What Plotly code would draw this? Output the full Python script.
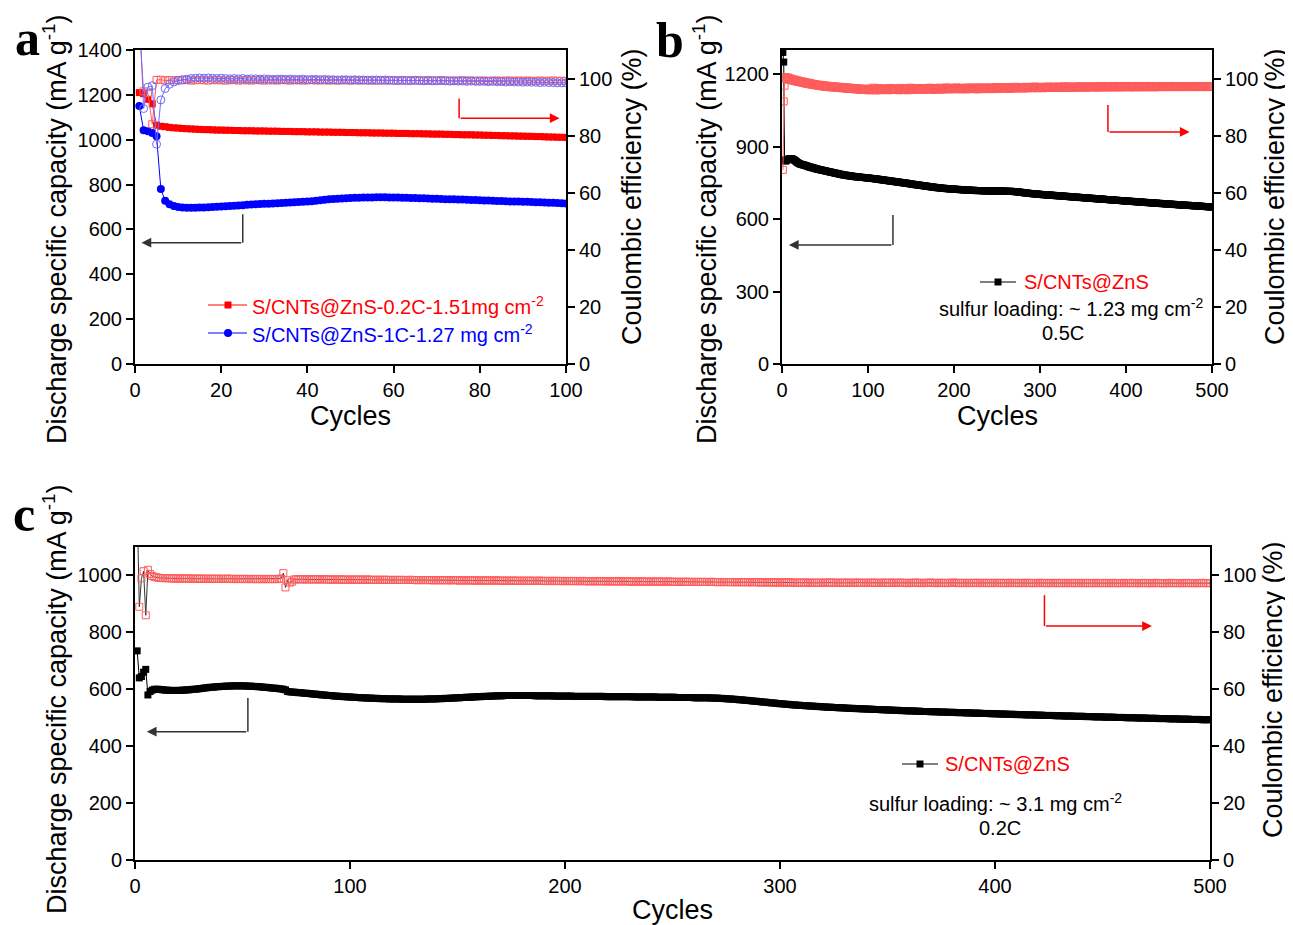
import plotly.graph_objects as go

# ---------------- Panel a (100 cycles) ----------------
cap_a_red = [1210, 1205, 1180, 1160, 1065, 1060, 1058, 1055, 1053, 1052,
             1050, 1049, 1048, 1047, 1046, 1045, 1045, 1044, 1043, 1043,
             1042, 1042, 1041, 1041, 1040, 1040, 1040, 1039, 1039, 1039,
             1038, 1038, 1038, 1037, 1037, 1037, 1036, 1036, 1036, 1035,
             1035, 1035, 1034, 1034, 1034, 1033, 1033, 1033, 1032, 1032,
             1032, 1031, 1031, 1031, 1030, 1030, 1030, 1029, 1029, 1029,
             1028, 1028, 1028, 1027, 1027, 1027, 1026, 1026, 1025, 1025,
             1025, 1024, 1024, 1023, 1023, 1022, 1022, 1022, 1021, 1021,
             1020, 1020, 1019, 1019, 1018, 1018, 1017, 1017, 1016, 1016,
             1015, 1015, 1014, 1014, 1013, 1012, 1012, 1011, 1011, 1010]
cap_a_blue = [1150, 1042, 1038, 1030, 1015, 780, 728, 712, 705, 700,
              698, 697, 697, 697, 698, 698, 699, 700, 701, 702,
              703, 705, 706, 707, 708, 710, 711, 712, 713, 714,
              715, 716, 717, 718, 719, 720, 721, 722, 723, 724,
              726, 728, 730, 732, 734, 736, 737, 738, 739, 740,
              741, 741, 742, 742, 742, 743, 743, 743, 742, 742,
              742, 741, 741, 740, 740, 739, 739, 738, 737, 737,
              736, 735, 735, 734, 733, 733, 732, 731, 731, 730,
              729, 729, 728, 727, 727, 726, 725, 725, 724, 723,
              723, 722, 721, 721, 720, 719, 719, 718, 717, 716]
ce_a_red = [118, 95.5, 95.0, 84.0, 99.5, 99.6, 99.3, 99.5, 99.4, 99.5,
            99.4, 99.5, 99.3, 99.4, 99.5, 99.4, 99.3, 99.5, 99.4, 99.4,
            99.3, 99.4, 99.5, 99.3, 99.4, 99.4, 99.3, 99.5, 99.4, 99.3,
            99.4, 99.4, 99.3, 99.5, 99.4, 99.3, 99.4, 99.4, 99.3, 99.4,
            99.5, 99.3, 99.4, 99.4, 99.3, 99.4, 99.3, 99.4, 99.4, 99.3,
            99.4, 99.3, 99.4, 99.4, 99.3, 99.3, 99.4, 99.3, 99.4, 99.3,
            99.3, 99.4, 99.3, 99.3, 99.4, 99.3, 99.3, 99.4, 99.3, 99.3,
            99.4, 99.3, 99.3, 99.2, 99.3, 99.4, 99.3, 99.3, 99.2, 99.3,
            99.3, 99.2, 99.3, 99.3, 99.2, 99.3, 99.3, 99.2, 99.3, 99.2,
            99.3, 99.2, 99.2, 99.3, 99.2, 99.2, 99.3, 99.2, 99.2, 99.2]
ce_a_blue = [125, 89.5, 97.0, 97.5, 77.0, 92.5, 96.5, 98.0, 98.8, 99.3,
             99.6, 99.8, 100.0, 100.1, 100.2, 100.1, 100.2, 100.1, 100.0, 100.1,
             100.0, 99.9, 100.0, 99.9, 100.0, 99.8, 99.9, 99.9, 99.8, 99.9,
             99.8, 99.7, 99.8, 99.8, 99.7, 99.8, 99.7, 99.7, 99.8, 99.6,
             99.7, 99.7, 99.6, 99.7, 99.6, 99.6, 99.5, 99.6, 99.6, 99.5,
             99.6, 99.5, 99.5, 99.4, 99.5, 99.5, 99.4, 99.5, 99.4, 99.4,
             99.3, 99.4, 99.3, 99.3, 99.4, 99.3, 99.2, 99.3, 99.2, 99.2,
             99.3, 99.2, 99.1, 99.2, 99.1, 99.1, 99.0, 99.1, 99.0, 99.0,
             99.0, 98.9, 99.0, 98.9, 98.9, 98.8, 98.9, 98.8, 98.8, 98.7,
             98.8, 98.7, 98.7, 98.6, 98.7, 98.6, 98.6, 98.5, 98.5, 98.5]

# ---------------- Panel b (500 cycles, 0.5C) ----------------
cap_b = [1290, 1250, 845, 840, 842, 845, 847, 849, 850, 850,
         850, 849, 847, 845, 843, 840, 837, 834, 832, 830,
         828, 827, 826, 825, 824, 823, 822, 821, 820, 818,
         817, 816, 815, 814, 813, 812, 811, 810, 809, 808,
         807, 806, 805, 805, 804, 803, 802, 801, 801, 800,
         799, 798, 797, 797, 796, 795, 794, 793, 793, 792,
         791, 790, 789, 789, 788, 787, 786, 785, 785, 784,
         783, 783, 782, 782, 781, 780, 780, 779, 779, 778,
         778, 777, 777, 776, 776, 775, 775, 775, 774, 774,
         773, 773, 773, 772, 772, 772, 771, 771, 770, 770,
         770, 769, 769, 768, 768, 768, 767, 767, 766, 766,
         765, 765, 764, 764, 763, 763, 762, 762, 761, 761,
         760, 760, 759, 759, 758, 758, 757, 757, 756, 756,
         755, 755, 754, 754, 753, 753, 752, 752, 751, 751,
         750, 750, 749, 749, 748, 748, 747, 747, 746, 745,
         745, 744, 744, 743, 743, 742, 742, 741, 741, 740,
         740, 739, 739, 738, 738, 737, 737, 736, 736, 735,
         735, 734, 734, 733, 733, 732, 732, 731, 731, 730,
         730, 730, 729, 729, 728, 728, 728, 727, 727, 727,
         726, 726, 726, 725, 725, 725, 725, 724, 724, 724,
         724, 723, 723, 723, 723, 722, 722, 722, 722, 721,
         721, 721, 721, 720, 720, 720, 720, 720, 719, 719,
         719, 719, 719, 719, 718, 718, 718, 718, 718, 718,
         718, 718, 717, 717, 717, 717, 717, 717, 717, 717,
         717, 717, 717, 716, 716, 716, 716, 716, 716, 716,
         716, 716, 716, 716, 716, 716, 716, 716, 715, 715,
         715, 715, 715, 715, 715, 715, 715, 714, 714, 714,
         714, 713, 713, 713, 712, 712, 711, 711, 710, 710,
         709, 709, 708, 708, 708, 707, 707, 706, 706, 706,
         705, 705, 705, 704, 704, 704, 703, 703, 703, 702,
         702, 702, 701, 701, 701, 701, 700, 700, 700, 700,
         699, 699, 699, 699, 698, 698, 698, 697, 697, 697,
         697, 696, 696, 696, 696, 695, 695, 695, 694, 694,
         694, 694, 693, 693, 693, 692, 692, 692, 692, 691,
         691, 691, 691, 690, 690, 690, 689, 689, 689, 689,
         688, 688, 688, 687, 687, 687, 687, 686, 686, 686,
         686, 685, 685, 685, 684, 684, 684, 684, 683, 683,
         683, 683, 682, 682, 682, 681, 681, 681, 681, 680,
         680, 680, 680, 679, 679, 679, 678, 678, 678, 678,
         677, 677, 677, 677, 676, 676, 676, 675, 675, 675,
         675, 674, 674, 674, 674, 673, 673, 673, 673, 672,
         672, 672, 672, 671, 671, 671, 670, 670, 670, 670,
         669, 669, 669, 669, 668, 668, 668, 668, 667, 667,
         667, 667, 666, 666, 666, 666, 665, 665, 665, 665,
         664, 664, 664, 664, 663, 663, 663, 663, 662, 662,
         662, 662, 661, 661, 661, 661, 660, 660, 660, 660,
         659, 659, 659, 659, 658, 658, 658, 658, 657, 657,
         657, 657, 657, 656, 656, 656, 656, 655, 655, 655,
         655, 654, 654, 654, 654, 653, 653, 653, 653, 652,
         652, 652, 652, 651, 651, 651, 651, 650, 650, 650]
ce_b = [68.0, 92.0, 97.5, 100.5, 100.2, 99.8, 100.4, 99.6, 100.1, 99.5,
        99.9, 99.3, 99.7, 99.2, 99.6, 99.0, 99.4, 98.9, 99.3, 98.8,
        99.1, 98.6, 99.0, 98.5, 98.9, 98.4, 98.7, 98.2, 98.6, 98.1,
        98.5, 98.0, 98.4, 97.9, 98.2, 97.8, 98.1, 97.7, 98.0, 97.6,
        97.9, 97.5, 97.8, 97.4, 97.8, 97.3, 97.7, 97.2, 97.6, 97.2,
        97.5, 97.1, 97.5, 97.0, 97.4, 97.0, 97.3, 96.9, 97.3, 96.9,
        97.2, 96.8, 97.2, 96.8, 97.1, 96.7, 97.1, 96.7, 97.0, 96.6,
        97.0, 96.6, 96.9, 96.5, 96.9, 96.5, 96.8, 96.4, 96.8, 96.4,
        96.7, 96.3, 96.7, 96.3, 96.6, 96.2, 96.6, 96.2, 96.5, 96.1,
        96.5, 96.1, 96.4, 96.0, 96.4, 96.0, 96.4, 96.0, 96.3, 95.9,
        96.3, 95.9, 96.5, 96.0, 96.4, 96.8, 96.1, 96.3, 95.8, 96.4,
        96.2, 96.7, 96.0, 96.3, 96.5, 95.9, 96.4, 96.1, 96.6, 96.2,
        96.0, 96.5, 96.3, 95.9, 96.4, 96.7, 96.1, 96.3, 96.0, 96.5,
        96.2, 96.6, 96.0, 96.4, 96.3, 95.9, 96.5, 96.2, 96.7, 96.1,
        96.3, 96.0, 96.6, 96.2, 96.4, 95.9, 96.5, 96.3, 96.8, 96.1,
        96.4, 96.2, 96.6, 96.0, 96.5, 96.3, 96.7, 96.1, 96.4, 96.2,
        96.6, 96.3, 96.5, 96.0, 96.7, 96.2, 96.4, 96.6, 96.1, 96.5,
        96.3, 96.8, 96.2, 96.5, 96.4, 96.0, 96.6, 96.3, 96.7, 96.2,
        96.5, 96.3, 96.8, 96.1, 96.6, 96.4, 96.2, 96.7, 96.3, 96.5,
        96.9, 96.2, 96.6, 96.4, 96.3, 96.8, 96.5, 96.2, 96.7, 96.4,
        96.6, 96.3, 96.9, 96.4, 96.5, 96.7, 96.2, 96.6, 96.4, 96.8,
        96.3, 96.7, 96.5, 96.2, 96.8, 96.4, 96.6, 96.3, 96.9, 96.5,
        96.4, 96.8, 96.5, 96.3, 96.7, 96.6, 96.2, 96.9, 96.4, 96.6,
        96.8, 96.3, 96.7, 96.5, 96.4, 96.9, 96.6, 96.3, 96.8, 96.5,
        96.7, 96.4, 96.9, 96.6, 96.3, 96.8, 96.5, 96.7, 97.0, 96.4,
        96.8, 96.6, 96.5, 96.9, 96.4, 96.7, 96.8, 96.5, 97.0, 96.6,
        96.8, 96.5, 96.9, 96.7, 96.4, 97.0, 96.6, 96.8, 96.5, 96.9,
        96.7, 97.1, 96.6, 96.8, 96.5, 97.0, 96.7, 96.9, 96.6, 97.0,
        96.8, 96.5, 97.1, 96.7, 96.9, 96.6, 97.0, 96.8, 96.7, 97.1,
        96.6, 96.9, 96.8, 97.2, 96.7, 96.9, 96.6, 97.0, 96.8, 97.1,
        96.7, 97.0, 96.9, 96.6, 97.1, 96.8, 97.0, 96.7, 97.2, 96.9,
        96.8, 97.1, 96.7, 97.0, 96.9, 97.2, 96.8, 97.0, 96.7, 97.1,
        96.9, 97.2, 96.8, 97.0, 96.7, 97.1, 96.9, 97.3, 96.8, 97.0,
        97.1, 96.8, 97.2, 96.9, 97.0, 96.7, 97.2, 96.9, 97.1, 96.8,
        97.0, 97.2, 96.9, 97.1, 96.8, 97.3, 97.0, 96.9, 97.2, 96.8,
        97.1, 97.0, 97.3, 96.9, 97.1, 96.8, 97.2, 97.0, 97.1, 96.9,
        97.2, 97.0, 97.3, 96.9, 97.1, 97.2, 96.8, 97.3, 97.0, 97.1,
        96.9, 97.2, 97.0, 97.4, 96.9, 97.1, 97.2, 96.9, 97.3, 97.0,
        97.1, 96.9, 97.3, 97.0, 97.2, 96.9, 97.4, 97.1, 97.0, 97.2,
        96.9, 97.3, 97.1, 97.0, 97.3, 96.9, 97.2, 97.1, 97.4, 97.0,
        97.2, 97.0, 97.3, 96.9, 97.2, 97.1, 97.4, 97.0, 97.2, 96.9,
        97.3, 97.1, 97.0, 97.4, 97.1, 97.2, 96.9, 97.3, 97.1, 97.2,
        97.0, 97.4, 97.1, 97.2, 96.9, 97.3, 97.1, 97.4, 97.0, 97.2,
        97.1, 97.3, 96.9, 97.2, 97.4, 97.0, 97.3, 97.1, 97.2, 97.0,
        97.3, 97.1, 97.4, 97.0, 97.2, 97.3, 97.0, 97.4, 97.1, 97.2,
        97.0, 97.3, 97.1, 97.4, 97.0, 97.2, 97.3, 97.1, 97.4, 97.0,
        97.2, 97.1, 97.3, 97.0, 97.4, 97.1, 97.2, 97.3, 97.0, 97.4,
        97.1, 97.2, 97.0, 97.3, 97.1, 97.4, 97.2, 97.0, 97.3, 97.1,
        97.2, 97.4, 97.0, 97.3, 97.1, 97.2, 97.4, 97.0, 97.3, 97.1,
        97.2, 97.3, 97.0, 97.4, 97.1, 97.2, 97.3, 97.1, 97.2, 97.0]

# ---------------- Panel c (500 cycles, 0.2C) ----------------
cap_c = [735, 640, 645, 660, 670, 580, 592, 597, 600, 600,
         600, 599, 598, 597, 597, 596, 596, 596, 596, 596,
         596, 597, 597, 598, 598, 599, 600, 600, 601, 602,
         603, 604, 605, 606, 607, 607, 608, 609, 609, 610,
         610, 611, 611, 611, 612, 612, 612, 612, 612, 612,
         612, 611, 611, 611, 610, 610, 609, 609, 608, 607,
         607, 606, 605, 604, 604, 603, 602, 601, 600, 598,
         592, 591, 590, 590, 589, 588, 588, 587, 586, 586,
         585, 584, 583, 583, 582, 581, 580, 580, 579, 578,
         578, 577, 576, 576, 575, 575, 574, 574, 573, 573,
         572, 572, 571, 571, 570, 570, 570, 569, 569, 569,
         568, 568, 568, 567, 567, 567, 567, 566, 566, 566,
         566, 566, 566, 565, 565, 565, 565, 565, 565, 565,
         565, 565, 565, 565, 565, 566, 566, 566, 566, 566,
         567, 567, 567, 568, 568, 568, 569, 569, 570, 570,
         570, 571, 571, 572, 572, 572, 573, 573, 574, 574,
         574, 575, 575, 575, 576, 576, 576, 577, 577, 577,
         577, 578, 578, 578, 578, 578, 578, 578, 578, 578,
         578, 578, 578, 578, 578, 577, 577, 577, 577, 577,
         577, 577, 577, 577, 576, 576, 576, 576, 576, 576,
         576, 576, 576, 575, 575, 575, 575, 575, 575, 575,
         575, 575, 575, 575, 575, 575, 575, 575, 574, 574,
         574, 574, 574, 574, 574, 574, 574, 574, 574, 574,
         574, 573, 573, 573, 573, 573, 573, 573, 573, 573,
         573, 573, 572, 572, 572, 572, 572, 572, 572, 572,
         572, 571, 571, 571, 571, 571, 571, 571, 571, 570,
         570, 570, 570, 570, 570, 570, 570, 569, 569, 569,
         569, 568, 568, 567, 567, 566, 566, 565, 565, 564,
         563, 563, 562, 561, 561, 560, 559, 558, 558, 557,
         556, 555, 555, 554, 553, 552, 552, 551, 550, 549,
         549, 548, 547, 547, 546, 545, 545, 544, 544, 543,
         543, 542, 542, 541, 541, 540, 540, 539, 539, 538,
         538, 537, 537, 537, 536, 536, 535, 535, 535, 534,
         534, 533, 533, 533, 532, 532, 532, 531, 531, 531,
         530, 530, 530, 529, 529, 529, 528, 528, 528, 527,
         527, 527, 526, 526, 526, 525, 525, 525, 524, 524,
         524, 524, 523, 523, 523, 522, 522, 522, 522, 521,
         521, 521, 521, 520, 520, 520, 520, 519, 519, 519,
         519, 518, 518, 518, 518, 517, 517, 517, 517, 516,
         516, 516, 516, 515, 515, 515, 515, 514, 514, 514,
         514, 513, 513, 513, 513, 512, 512, 512, 512, 511,
         511, 511, 511, 510, 510, 510, 510, 510, 509, 509,
         509, 509, 508, 508, 508, 508, 508, 507, 507, 507,
         507, 506, 506, 506, 506, 506, 505, 505, 505, 505,
         505, 504, 504, 504, 504, 503, 503, 503, 503, 503,
         502, 502, 502, 502, 502, 501, 501, 501, 501, 501,
         500, 500, 500, 500, 500, 499, 499, 499, 499, 499,
         498, 498, 498, 498, 498, 497, 497, 497, 497, 497,
         496, 496, 496, 496, 496, 495, 495, 495, 495, 495,
         494, 494, 494, 494, 494, 493, 493, 493, 493, 493]
ce_c = [125, 89.0, 99.0, 101.5, 86.0, 102.0, 100.5, 99.8, 99.5, 99.3,
        99.2, 99.1, 99.1, 99.0, 99.1, 99.0, 99.0, 98.9, 99.0, 98.9,
        98.9, 99.0, 98.9, 98.9, 99.0, 98.8, 98.9, 98.9, 98.8, 98.9,
        98.9, 98.8, 98.9, 98.8, 98.8, 98.9, 98.8, 98.8, 98.9, 98.8,
        98.8, 98.8, 98.9, 98.8, 98.8, 98.7, 98.8, 98.8, 98.7, 98.8,
        98.8, 98.7, 98.8, 98.7, 98.8, 98.7, 98.7, 98.8, 98.7, 98.7,
        98.8, 98.7, 98.7, 98.8, 98.7, 98.7, 98.8, 98.9, 100.8, 95.8,
        98.3, 97.5, 97.8, 98.6, 98.6, 98.7, 98.6, 98.7, 98.6, 98.6,
        98.7, 98.6, 98.6, 98.7, 98.6, 98.6, 98.6, 98.7, 98.6, 98.6,
        98.5, 98.6, 98.6, 98.5, 98.6, 98.6, 98.5, 98.6, 98.5, 98.5,
        98.6, 98.5, 98.5, 98.6, 98.5, 98.5, 98.5, 98.6, 98.5, 98.5,
        98.4, 98.5, 98.5, 98.4, 98.5, 98.5, 98.4, 98.5, 98.4, 98.4,
        98.5, 98.4, 98.4, 98.5, 98.4, 98.4, 98.4, 98.5, 98.4, 98.4,
        98.3, 98.4, 98.4, 98.3, 98.4, 98.4, 98.3, 98.4, 98.3, 98.3,
        98.4, 98.3, 98.3, 98.4, 98.3, 98.3, 98.3, 98.4, 98.3, 98.3,
        98.2, 98.3, 98.3, 98.2, 98.3, 98.3, 98.2, 98.3, 98.2, 98.2,
        98.3, 98.2, 98.2, 98.3, 98.2, 98.2, 98.2, 98.3, 98.2, 98.2,
        98.1, 98.2, 98.2, 98.1, 98.2, 98.2, 98.1, 98.2, 98.1, 98.1,
        98.2, 98.1, 98.1, 98.2, 98.1, 98.1, 98.1, 98.2, 98.1, 98.1,
        98.0, 98.1, 98.1, 98.0, 98.1, 98.1, 98.0, 98.1, 98.0, 98.0,
        98.1, 98.0, 98.0, 98.1, 98.0, 98.0, 98.0, 98.1, 98.0, 98.0,
        97.9, 98.0, 98.0, 97.9, 98.0, 98.0, 97.9, 98.0, 97.9, 97.9,
        98.0, 97.9, 97.9, 98.0, 97.9, 97.9, 97.9, 98.0, 97.9, 97.9,
        97.8, 97.9, 97.9, 97.8, 97.9, 97.9, 97.8, 97.9, 97.8, 97.8,
        97.9, 97.8, 97.8, 97.9, 97.8, 97.8, 97.8, 97.9, 97.8, 97.8,
        97.7, 97.8, 97.8, 97.7, 97.8, 97.8, 97.7, 97.8, 97.7, 97.7,
        97.8, 97.7, 97.7, 97.8, 97.7, 97.7, 97.7, 97.8, 97.7, 97.7,
        97.6, 97.7, 97.7, 97.6, 97.7, 97.7, 97.6, 97.7, 97.6, 97.6,
        97.7, 97.6, 97.6, 97.7, 97.6, 97.6, 97.6, 97.7, 97.6, 97.6,
        97.5, 97.6, 97.6, 97.5, 97.6, 97.6, 97.5, 97.6, 97.5, 97.5,
        97.6, 97.5, 97.5, 97.6, 97.5, 97.5, 97.4, 97.5, 97.5, 97.4,
        97.5, 97.5, 97.4, 97.5, 97.4, 97.4, 97.5, 97.4, 97.4, 97.5,
        97.5, 97.4, 97.5, 97.5, 97.4, 97.5, 97.4, 97.4, 97.5, 97.4,
        97.4, 97.5, 97.4, 97.4, 97.5, 97.4, 97.5, 97.4, 97.4, 97.4,
        97.5, 97.4, 97.4, 97.5, 97.4, 97.4, 97.4, 97.5, 97.4, 97.4,
        97.4, 97.5, 97.4, 97.4, 97.4, 97.5, 97.4, 97.4, 97.3, 97.4,
        97.4, 97.4, 97.5, 97.4, 97.4, 97.3, 97.4, 97.4, 97.4, 97.5,
        97.4, 97.4, 97.3, 97.4, 97.4, 97.4, 97.3, 97.4, 97.4, 97.4,
        97.5, 97.4, 97.3, 97.4, 97.4, 97.3, 97.4, 97.4, 97.3, 97.4,
        97.4, 97.4, 97.3, 97.4, 97.4, 97.3, 97.4, 97.3, 97.4, 97.4,
        97.3, 97.4, 97.4, 97.3, 97.4, 97.3, 97.4, 97.4, 97.3, 97.4,
        97.3, 97.4, 97.3, 97.4, 97.4, 97.3, 97.4, 97.3, 97.3, 97.4,
        97.4, 97.3, 97.4, 97.3, 97.3, 97.4, 97.3, 97.4, 97.3, 97.3,
        97.4, 97.3, 97.3, 97.4, 97.3, 97.3, 97.4, 97.3, 97.3, 97.4,
        97.3, 97.3, 97.4, 97.3, 97.3, 97.3, 97.4, 97.3, 97.3, 97.3,
        97.4, 97.3, 97.3, 97.3, 97.4, 97.3, 97.3, 97.3, 97.3, 97.4,
        97.3, 97.3, 97.3, 97.4, 97.3, 97.3, 97.3, 97.3, 97.4, 97.3,
        97.3, 97.3, 97.3, 97.3, 97.4, 97.3, 97.3, 97.3, 97.3, 97.3,
        97.3, 97.4, 97.3, 97.3, 97.3, 97.3, 97.3, 97.3, 97.4, 97.3,
        97.3, 97.3, 97.3, 97.3, 97.3, 97.4, 97.3, 97.3, 97.3, 97.3]

# text labels
legend_a = ["S/CNTs@ZnS-0.2C-1.51mg cm<sup>-2</sup>", "S/CNTs@ZnS-1C-1.27 mg cm<sup>-2</sup>"]
sample_name = "S/CNTs@ZnS"
loading_b = "sulfur loading: ~ 1.23 mg cm<sup>-2</sup>"
rate_b = "0.5C"
loading_c = "sulfur loading: ~ 3.1 mg cm<sup>-2</sup>"
rate_c = "0.2C"
ytitle_left = "Discharge specific capacity (mA g<sup>-1</sup>)"
ytitle_right = "Coulombic efficiency (%)"
xtitle = "Cycles"

# the page body has an 8 px margin: the figure is drawn at (8, 8)
OFF = 8
W, H = 1293 - OFF, 925 - OFF
FONT = "Liberation Sans, Arial, Helvetica, sans-serif"
RED = "#ff0000"
BLUE = "#0000ff"
LRED = "#ff5c5c"
LBLUE = "#6b6bff"


def px(x):
    return (x - OFF) / W


def py(y):
    return 1 - (y - OFF) / H


def cyc(vals):
    return list(range(1, len(vals) + 1))


fig = go.Figure()

# Panel a
fig.add_trace(go.Scatter(x=cyc(cap_a_red), y=cap_a_red, xaxis="x", yaxis="y", mode="lines+markers",
                         line=dict(color=RED, width=1), marker=dict(symbol="square", size=7, color=RED),
                         showlegend=False))
fig.add_trace(go.Scatter(x=cyc(cap_a_blue), y=cap_a_blue, xaxis="x", yaxis="y", mode="lines+markers",
                         line=dict(color=BLUE, width=1), marker=dict(symbol="circle", size=8, color=BLUE),
                         showlegend=False))
fig.add_trace(go.Scatter(x=cyc(ce_a_red), y=ce_a_red, xaxis="x", yaxis="y2", mode="lines+markers",
                         line=dict(color=LRED, width=1),
                         marker=dict(symbol="square-open", size=7, color=LRED, line=dict(width=1)),
                         showlegend=False))
fig.add_trace(go.Scatter(x=cyc(ce_a_blue), y=ce_a_blue, xaxis="x", yaxis="y2", mode="lines+markers",
                         line=dict(color=LBLUE, width=1),
                         marker=dict(symbol="circle-open", size=8, color=LBLUE, line=dict(width=1)),
                         showlegend=False))

# Panel b
fig.add_trace(go.Scatter(x=cyc(cap_b), y=cap_b, xaxis="x2", yaxis="y3", mode="lines+markers",
                         line=dict(color="black", width=1), marker=dict(symbol="square", size=7, color="black"),
                         showlegend=False))
fig.add_trace(go.Scatter(x=cyc(ce_b), y=ce_b, xaxis="x2", yaxis="y4", mode="lines+markers",
                         line=dict(color=LRED, width=1),
                         marker=dict(symbol="square-open", size=7, color=LRED, line=dict(width=1)),
                         showlegend=False))

# Panel c
fig.add_trace(go.Scatter(x=cyc(cap_c), y=cap_c, xaxis="x3", yaxis="y5", mode="lines+markers",
                         line=dict(color="black", width=1), marker=dict(symbol="square", size=7, color="black"),
                         showlegend=False))
fig.add_trace(go.Scatter(x=cyc(ce_c), y=ce_c, xaxis="x3", yaxis="y6", mode="lines+markers",
                         line=dict(color="#333333", width=1),
                         marker=dict(symbol="square-open", size=7, color=LRED, line=dict(width=1)),
                         showlegend=False))

tickfont = dict(family=FONT, size=20, color="black")
common = dict(showline=True, linecolor="black", linewidth=2, ticks="outside", ticklen=7, tickwidth=2,
              tickcolor="black", showgrid=False, zeroline=False, tickfont=tickfont, automargin=False)

dom_a_x = [px(135), px(566)]
dom_b_x = [px(782), px(1212)]
dom_c_x = [px(135), px(1210)]
dom_ab_y = [py(364), py(50)]
dom_c_y = [py(860), py(547)]

fig.update_layout(
    width=W, height=H, margin=dict(l=0, r=0, t=0, b=0, autoexpand=False),
    paper_bgcolor="white", plot_bgcolor="white",
    xaxis=dict(domain=dom_a_x, anchor="y", range=[0, 100], dtick=20, mirror=True, **common),
    yaxis=dict(domain=dom_ab_y, anchor="x", range=[0, 1400], dtick=200, **common),
    yaxis2=dict(overlaying="y", side="right", anchor="x", range=[0, 110], tickvals=[0, 20, 40, 60, 80, 100], **common),
    xaxis2=dict(domain=dom_b_x, anchor="y3", range=[0, 500], dtick=100, mirror=True, **common),
    yaxis3=dict(domain=dom_ab_y, anchor="x2", range=[0, 1300], tickvals=[0, 300, 600, 900, 1200], **common),
    yaxis4=dict(overlaying="y3", side="right", anchor="x2", range=[0, 110], tickvals=[0, 20, 40, 60, 80, 100], **common),
    xaxis3=dict(domain=dom_c_x, anchor="y5", range=[0, 500], dtick=100, mirror=True, **common),
    yaxis5=dict(domain=dom_c_y, anchor="x3", range=[0, 1100], dtick=200, **common),
    yaxis6=dict(overlaying="y5", side="right", anchor="x3", range=[0, 110], tickvals=[0, 20, 40, 60, 80, 100], **common),
)

ann = []
shapes = []
tfont = dict(family=FONT, size=27, color="black")
lfont = dict(family=FONT, size=20, color="black")


def text(x, y, s, font, xanchor="center", angle=0):
    ann.append(dict(x=px(x), y=py(y), xref="paper", yref="paper", text=s, showarrow=False,
                    font=font, xanchor=xanchor, yanchor="middle", textangle=angle))


# axis titles
text(55, 230, ytitle_left, tfont, angle=-90)
text(632, 197, ytitle_right, tfont, angle=-90)
text(350, 416, xtitle, tfont)
text(705, 230, ytitle_left, tfont, angle=-90)
text(1275, 197, ytitle_right, tfont, angle=-90)
text(997, 416, xtitle, tfont)
text(55, 700, ytitle_left, tfont, angle=-90)
text(1273, 690, ytitle_right, tfont, angle=-90)
text(672, 910, xtitle, tfont)

# panel letters
letter_font = dict(family="Liberation Serif, Times New Roman, serif", size=50, color="black")
text(27, 38, "<b>a</b>", letter_font)
text(670, 40, "<b>b</b>", letter_font)
text(24, 514, "<b>c</b>", letter_font)

# legend a
for i, (lab, col, sym) in enumerate([(legend_a[0], RED, "square"), (legend_a[1], BLUE, "circle")]):
    yy = 305 + 28 * i
    shapes.append(dict(type="line", xref="paper", yref="paper", x0=px(208), x1=px(247), y0=py(yy), y1=py(yy),
                       line=dict(color=col, width=1)))
    if sym == "square":
        shapes.append(dict(type="rect", xref="paper", yref="paper", x0=px(224.5), x1=px(231.5),
                           y0=py(yy + 3.5), y1=py(yy - 3.5), fillcolor=col, line=dict(width=0)))
    else:
        shapes.append(dict(type="circle", xref="paper", yref="paper", x0=px(224), x1=px(232),
                           y0=py(yy + 4), y1=py(yy - 4), fillcolor=col, line=dict(width=0)))
    text(250, yy, lab, dict(family=FONT, size=20, color=col), xanchor="left")


def name_key(x0, x1, yy):
    xm = (x0 + x1) / 2
    shapes.append(dict(type="line", xref="paper", yref="paper", x0=px(x0), x1=px(x1), y0=py(yy), y1=py(yy),
                       line=dict(color="black", width=1)))
    shapes.append(dict(type="rect", xref="paper", yref="paper", x0=px(xm - 3.5), x1=px(xm + 3.5),
                       y0=py(yy + 3.5), y1=py(yy - 3.5), fillcolor="black", line=dict(width=0)))


# legend b
name_key(980, 1016, 282)
text(1022, 282, sample_name, dict(family=FONT, size=20, color=RED), xanchor="left")
text(1071, 307, loading_b, lfont)
text(1063, 333, rate_b, lfont)

# legend c
name_key(902, 938, 764)
text(943, 764, sample_name, dict(family=FONT, size=20, color=RED), xanchor="left")
text(995, 802, loading_c, lfont)
text(1000, 828, rate_c, lfont)


def elbow(xr, yr, xv, ytop, ybot, xhead, color):
    shapes.append(dict(type="line", xref=xr, yref=yr, x0=xv, x1=xv, y0=ytop, y1=ybot,
                       line=dict(color=color, width=1.5)))
    ann.append(dict(x=xhead, y=ybot, ax=xv, ay=ybot, xref=xr, yref=yr, axref=xr, ayref=yr,
                    showarrow=True, arrowhead=2, arrowsize=1.3, arrowwidth=1.5, arrowcolor=color, text=""))


# arrows
elbow("x", "y", 25, 668, 541, 1.5, "#333333")
elbow("x", "y2", 75.2, 93.0, 86.1, 98.5, RED)
elbow("x2", "y3", 129, 617, 493, 8, "#333333")
elbow("x2", "y4", 379, 90.7, 81.3, 474, RED)
elbow("x3", "y5", 52.5, 569, 451, 5.5, "#333333")
elbow("x3", "y6", 423, 93.1, 82.2, 473, RED)

fig.update_layout(annotations=ann, shapes=shapes)
fig.write_html("out.html")
